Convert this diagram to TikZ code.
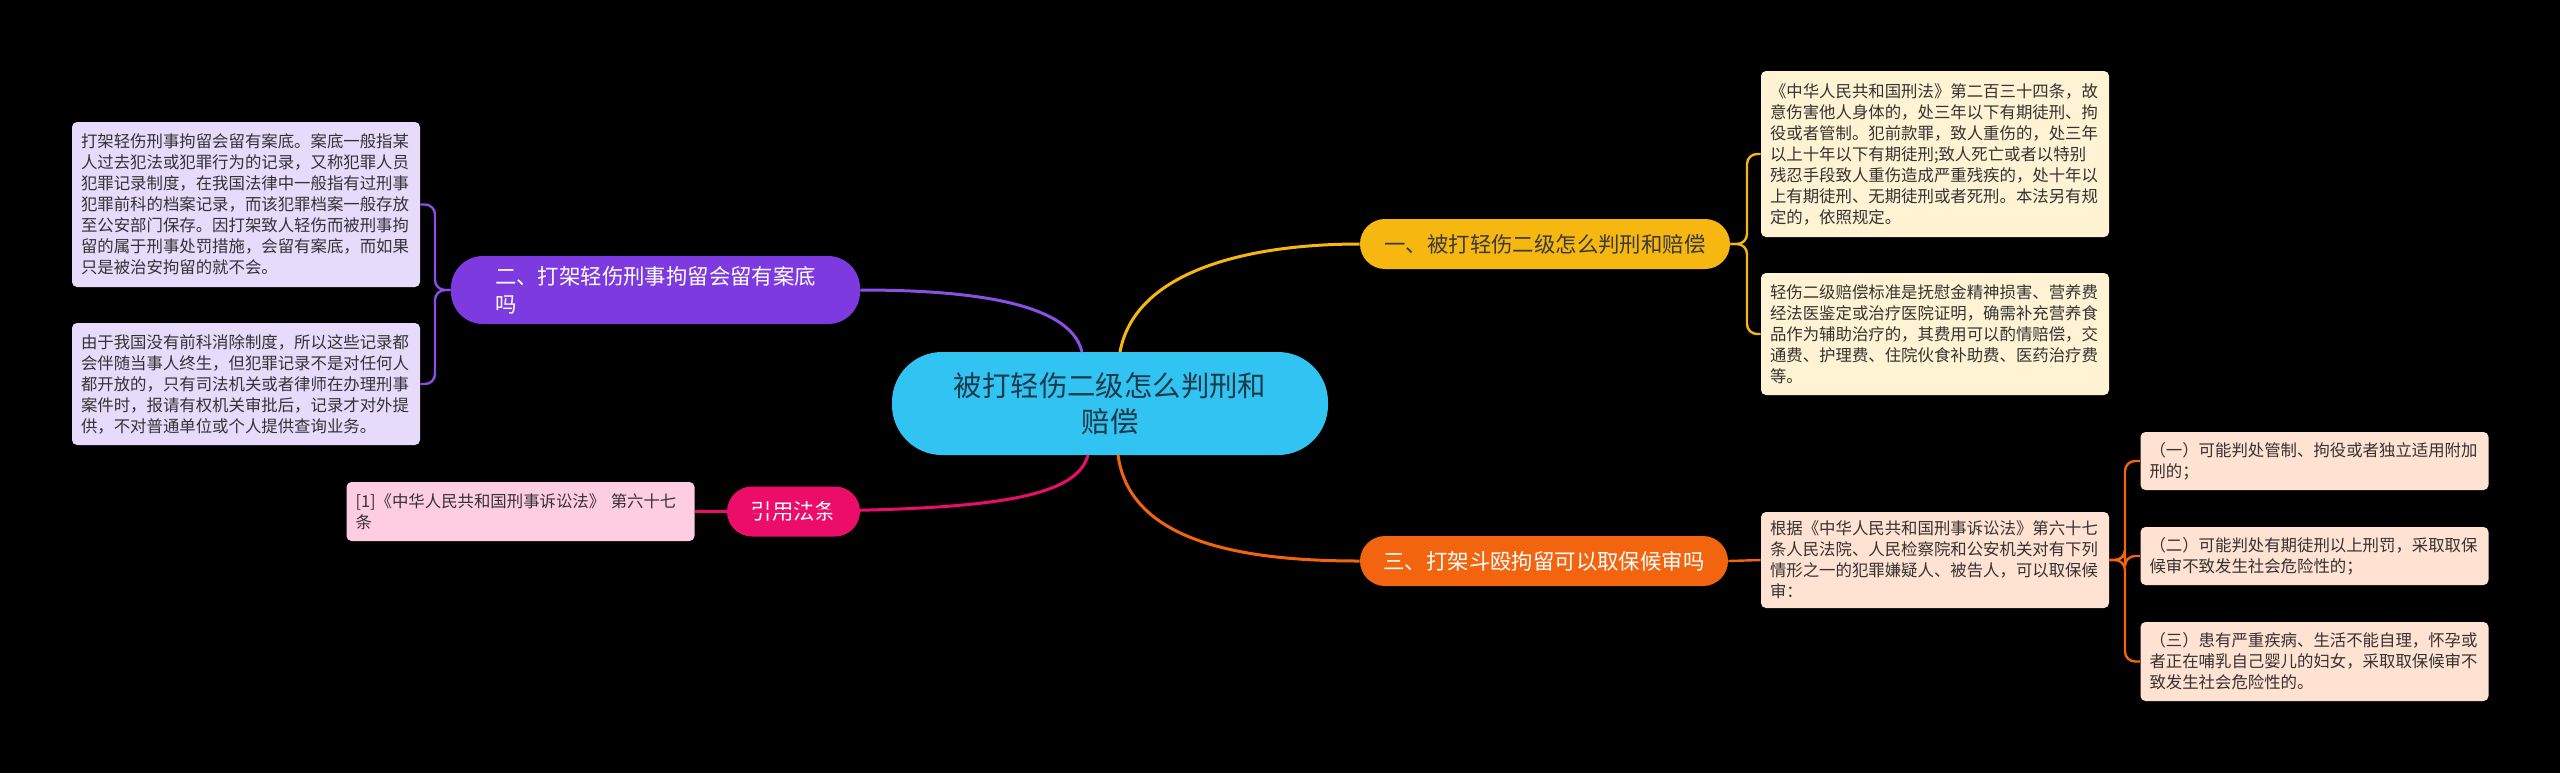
\documentclass[tikz,border=0pt]{standalone}
\usepackage{fontspec}
\setmainfont{Noto Sans CJK SC}
\newfontfamily\cjk{Noto Sans CJK SC}
\definecolor{bgc}{HTML}{000000}
\definecolor{cen}{HTML}{31C3F1}
\definecolor{centext}{HTML}{1C3A4A}
\definecolor{yel}{HTML}{F6B810}
\definecolor{pur}{HTML}{7D3AE0}
\definecolor{purline}{HTML}{8A4FE3}
\definecolor{mag}{HTML}{EC0D6B}
\definecolor{ora}{HTML}{F3640F}
\definecolor{lav}{HTML}{E6DBFB}
\definecolor{cream}{HTML}{FFF3D4}
\definecolor{pinkl}{HTML}{FFCDE2}
\definecolor{peach}{HTML}{FFE2D1}
\definecolor{leaftext}{HTML}{333333}
\definecolor{btext}{HTML}{3A3A3A}
\begin{document}
\begin{tikzpicture}[x=0.5pt,y=-0.5pt,
  leaf/.style={rounded corners=2.5pt, inner xsep=4.5pt, inner ysep=0pt, text width=165pt, align=left,
    font=\cjk\fontsize{8.2}{10.5}\selectfont, text=leaftext, anchor=center},
  branch/.style={rounded corners=12.5pt, inner sep=0pt, minimum height=25pt, align=center,
    font=\cjk\fontsize{10.7}{14}\selectfont, anchor=center},
  conn/.style={line width=1.5pt},
  sub/.style={line width=1.2pt, rounded corners=5pt}]
\useasboundingbox (0,0) rectangle (2560,773);
\fill[bgc] (0,0) rectangle (2560,773);

% central node
\node[fill=cen, rounded corners=25pt, minimum width=218pt, minimum height=51.5pt, inner sep=0pt,
  align=center, text=centext, font=\cjk\fontsize{14.2}{18}\selectfont] (C) at (1110,403.5)
  {被打轻伤二级怎么判刑和\\赔偿};

% branches
\node[branch, fill=yel, text=btext, minimum width=185pt] (B1) at (1545,244) {一、被打轻伤二级怎么判刑和赔偿};
\node[branch, fill=ora, text=white, minimum width=184pt] (B3) at (1544,561) {三、打架斗殴拘留可以取保候审吗};
\node[branch, fill=pur, text=white, minimum width=204.5pt, minimum height=34pt, rounded corners=16pt, align=left] (B2) at (655.5,290)
  {二、打架轻伤刑事拘留会留有案底\\吗};
\node[branch, fill=mag, text=white, minimum width=66.5pt] (B4) at (793.5,511.5) {引用法条};

% leaves left
\node[leaf, fill=lav, minimum height=82.5pt] (L1) at (246,204.5)
 {打架轻伤刑事拘留会留有案底。案底一般指某\\人过去犯法或犯罪行为的记录，又称犯罪人员\\犯罪记录制度，在我国法律中一般指有过刑事\\犯罪前科的档案记录，而该犯罪档案一般存放\\至公安部门保存。因打架致人轻伤而被刑事拘\\留的属于刑事处罚措施，会留有案底，而如果\\只是被治安拘留的就不会。};
\node[leaf, fill=lav, minimum height=61pt] (L2) at (246,384)
 {由于我国没有前科消除制度，所以这些记录都\\会伴随当事人终生，但犯罪记录不是对任何人\\都开放的，只有司法机关或者律师在办理刑事\\案件时，报请有权机关审批后，记录才对外提\\供，不对普通单位或个人提供查询业务。};
\node[leaf, fill=pinkl, minimum height=29.5pt] (CI) at (520.5,511.5)
 {[1]《中华人民共和国刑事诉讼法》 第六十七\\条};

% leaves right
\node[leaf, fill=cream, minimum height=83pt] (R1) at (1935,154)
 {《中华人民共和国刑法》第二百三十四条，故\\意伤害他人身体的，处三年以下有期徒刑、拘\\役或者管制。犯前款罪，致人重伤的，处三年\\以上十年以下有期徒刑;致人死亡或者以特别\\残忍手段致人重伤造成严重残疾的，处十年以\\上有期徒刑、无期徒刑或者死刑。本法另有规\\定的，依照规定。};
\node[leaf, fill=cream, minimum height=61pt] (R2) at (1935,334)
 {轻伤二级赔偿标准是抚慰金精神损害、营养费\\经法医鉴定或治疗医院证明，确需补充营养食\\品作为辅助治疗的，其费用可以酌情赔偿，交\\通费、护理费、住院伙食补助费、医药治疗费\\等。};
\node[leaf, fill=peach, minimum height=48pt] (R3) at (1935,560)
 {根据《中华人民共和国刑事诉讼法》第六十七\\条人民法院、人民检察院和公安机关对有下列\\情形之一的犯罪嫌疑人、被告人，可以取保候\\审：};

\node[leaf, fill=peach, minimum height=29pt] (F1) at (2314.5,461)
 {（一）可能判处管制、拘役或者独立适用附加\\刑的；};
\node[leaf, fill=peach, minimum height=29pt] (F2) at (2314.5,556)
 {（二）可能判处有期徒刑以上刑罚，采取取保\\候审不致发生社会危险性的；};
\node[leaf, fill=peach, minimum height=39.5pt] (F3) at (2314.5,661.5)
 {（三）患有严重疾病、生活不能自理，怀孕或\\者正在哺乳自己婴儿的妇女，采取取保候审不\\致发生社会危险性的。};

% connector start points on the central node
\coordinate (cP) at (1082,352);
\coordinate (cY) at (1120,352);
\coordinate (cM) at (1088,455);
\coordinate (cO) at (1118,455);

\draw[conn, yel] (cY) .. controls (1135,270) and (1250,244) .. (B1.west);
\draw[conn, purline] (cP) .. controls (1070,300) and (960,290) .. (B2.east);
\draw[conn, mag] (cM) .. controls (1075,505) and (960,511.5) .. (B4.west);
\draw[conn, ora] (cO) .. controls (1130,545) and (1250,561) .. (B3.west);

% sub connectors
\coordinate (yb) at (1747,244);
\draw[sub, yel] (B1.east) -- (yb) |- (R1.west);
\draw[sub, yel] (B1.east) -- (yb) |- (R2.west);
\coordinate (pb) at (435,290);
\draw[sub, purline] (B2.west) -- (pb) |- (L1.east);
\draw[sub, purline] (B2.west) -- (pb) |- (L2.east);
\draw[sub, mag] (B4.west) -- (CI.east);
\draw[sub, ora] (B3.east) -- (R3.west);
\coordinate (ob) at (2125,560);
\draw[sub, ora] (R3.east) -- (ob) |- (F1.west);
\draw[sub, ora] (R3.east) -- (ob) |- (F2.west);
\draw[sub, ora] (R3.east) -- (ob) |- (F3.west);
\end{tikzpicture}
\end{document}
